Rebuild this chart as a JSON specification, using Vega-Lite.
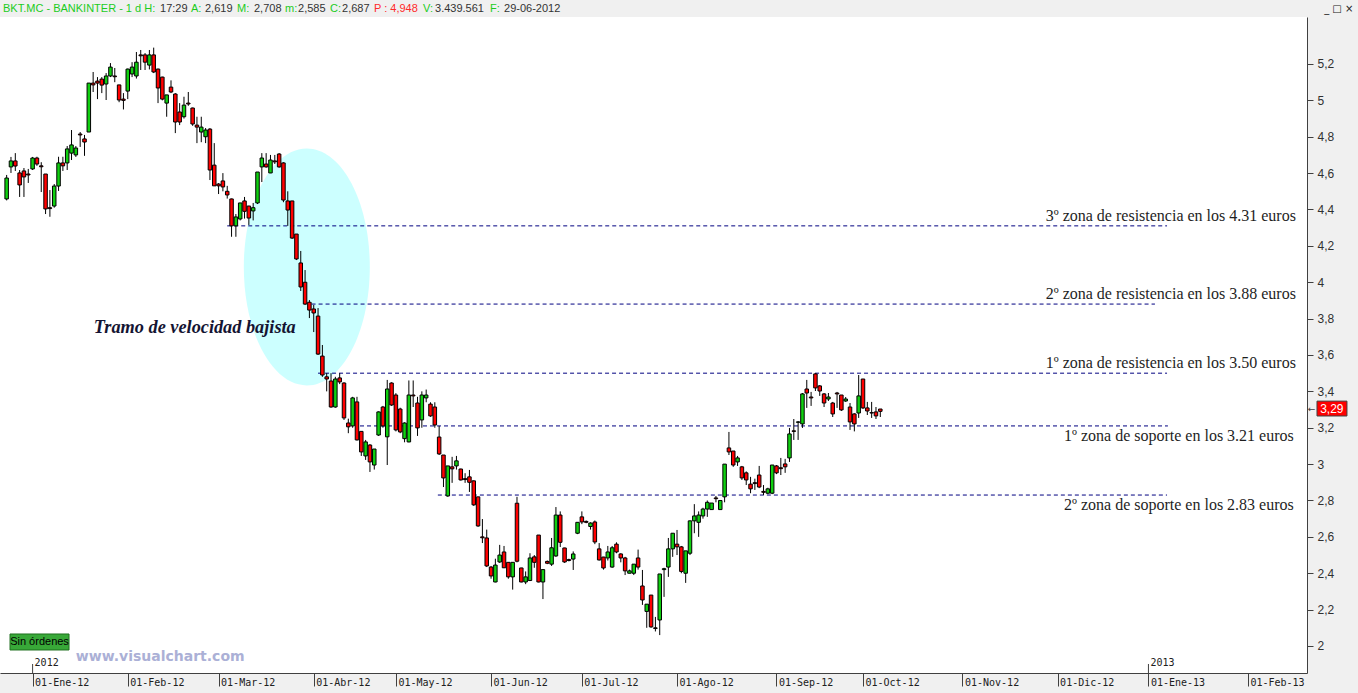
{
"$schema": "https://vega.github.io/schema/vega-lite/v6.json",
"width": 1307, "height": 656,
"autosize": {"type": "none"},
"padding": {"left": 0, "top": 17, "right": 51, "bottom": 20},
"background": "#f0f0f0",
"config": {"view": {"stroke": null, "fill": "#ffffff"}},
"datasets": {
"candles": [
{"i":0,"o":4.458,"h":4.59,"l":4.45,"c":4.573},
{"i":1,"o":4.634,"h":4.689,"l":4.601,"c":4.667},
{"i":2,"o":4.667,"h":4.71,"l":4.612,"c":4.639},
{"i":3,"o":4.601,"h":4.617,"l":4.469,"c":4.535},
{"i":4,"o":4.612,"h":4.628,"l":4.469,"c":4.579},
{"i":5,"o":4.595,"h":4.623,"l":4.546,"c":4.59},
{"i":6,"o":4.623,"h":4.689,"l":4.617,"c":4.683},
{"i":7,"o":4.683,"h":4.69,"l":4.64,"c":4.65},
{"i":8,"o":4.64,"h":4.66,"l":4.496,"c":4.635},
{"i":9,"o":4.595,"h":4.595,"l":4.375,"c":4.403},
{"i":10,"o":4.41,"h":4.507,"l":4.36,"c":4.405},
{"i":11,"o":4.419,"h":4.54,"l":4.41,"c":4.529},
{"i":12,"o":4.529,"h":4.69,"l":4.502,"c":4.656},
{"i":13,"o":4.656,"h":4.69,"l":4.612,"c":4.64},
{"i":14,"o":4.656,"h":4.749,"l":4.617,"c":4.733},
{"i":15,"o":4.71,"h":4.837,"l":4.672,"c":4.755},
{"i":16,"o":4.7,"h":4.749,"l":4.689,"c":4.738},
{"i":17,"o":4.815,"h":4.826,"l":4.744,"c":4.81},
{"i":18,"o":4.788,"h":4.81,"l":4.695,"c":4.771},
{"i":19,"o":4.826,"h":5.095,"l":4.826,"c":5.095},
{"i":20,"o":5.095,"h":5.156,"l":5.046,"c":5.085},
{"i":21,"o":5.106,"h":5.128,"l":5.007,"c":5.095},
{"i":22,"o":5.117,"h":5.128,"l":5.04,"c":5.084},
{"i":23,"o":5.09,"h":5.15,"l":5.002,"c":5.134},
{"i":24,"o":5.134,"h":5.205,"l":5.128,"c":5.183},
{"i":25,"o":5.134,"h":5.178,"l":5.1,"c":5.13},
{"i":26,"o":5.085,"h":5.085,"l":4.99,"c":5.002},
{"i":27,"o":5.007,"h":5.04,"l":4.95,"c":5.0},
{"i":28,"o":5.051,"h":5.175,"l":5.007,"c":5.172},
{"i":29,"o":5.145,"h":5.21,"l":5.128,"c":5.183},
{"i":30,"o":5.134,"h":5.266,"l":5.12,"c":5.21},
{"i":31,"o":5.25,"h":5.277,"l":5.167,"c":5.245},
{"i":32,"o":5.25,"h":5.26,"l":5.167,"c":5.21},
{"i":33,"o":5.194,"h":5.277,"l":5.17,"c":5.25},
{"i":34,"o":5.25,"h":5.29,"l":5.15,"c":5.156},
{"i":35,"o":5.172,"h":5.175,"l":4.985,"c":5.068},
{"i":36,"o":5.128,"h":5.13,"l":5.0,"c":5.007},
{"i":37,"o":4.985,"h":5.03,"l":4.91,"c":5.03},
{"i":38,"o":5.073,"h":5.11,"l":5.04,"c":5.046},
{"i":39,"o":5.035,"h":5.04,"l":4.82,"c":4.881},
{"i":40,"o":4.936,"h":4.985,"l":4.864,"c":4.881},
{"i":41,"o":4.91,"h":5.02,"l":4.9,"c":4.974},
{"i":42,"o":4.985,"h":5.046,"l":4.97,"c":4.98},
{"i":43,"o":4.958,"h":4.96,"l":4.86,"c":4.87},
{"i":44,"o":4.864,"h":4.91,"l":4.765,"c":4.853},
{"i":45,"o":4.826,"h":4.91,"l":4.77,"c":4.853},
{"i":46,"o":4.8,"h":4.848,"l":4.765,"c":4.837},
{"i":47,"o":4.842,"h":4.848,"l":4.562,"c":4.617},
{"i":48,"o":4.644,"h":4.765,"l":4.529,"c":4.53},
{"i":49,"o":4.54,"h":4.545,"l":4.485,"c":4.53},
{"i":50,"o":4.557,"h":4.6,"l":4.5,"c":4.524},
{"i":51,"o":4.5,"h":4.53,"l":4.46,"c":4.48},
{"i":52,"o":4.458,"h":4.46,"l":4.25,"c":4.31},
{"i":53,"o":4.31,"h":4.375,"l":4.25,"c":4.359},
{"i":54,"o":4.348,"h":4.436,"l":4.34,"c":4.436},
{"i":55,"o":4.447,"h":4.469,"l":4.35,"c":4.39},
{"i":56,"o":4.419,"h":4.42,"l":4.315,"c":4.353},
{"i":57,"o":4.392,"h":4.436,"l":4.34,"c":4.41},
{"i":58,"o":4.436,"h":4.606,"l":4.43,"c":4.606},
{"i":59,"o":4.634,"h":4.71,"l":4.551,"c":4.683},
{"i":60,"o":4.65,"h":4.71,"l":4.63,"c":4.634},
{"i":61,"o":4.601,"h":4.7,"l":4.6,"c":4.672},
{"i":62,"o":4.667,"h":4.7,"l":4.65,"c":4.662},
{"i":63,"o":4.705,"h":4.71,"l":4.63,"c":4.634},
{"i":64,"o":4.656,"h":4.66,"l":4.44,"c":4.452},
{"i":65,"o":4.447,"h":4.5,"l":4.31,"c":4.397},
{"i":66,"o":4.447,"h":4.447,"l":4.238,"c":4.243},
{"i":67,"o":4.265,"h":4.265,"l":4.122,"c":4.128},
{"i":68,"o":4.106,"h":4.172,"l":3.952,"c":3.974},
{"i":69,"o":4.0,"h":4.067,"l":3.875,"c":3.88},
{"i":70,"o":3.89,"h":3.902,"l":3.803,"c":3.847},
{"i":71,"o":3.853,"h":3.875,"l":3.726,"c":3.831},
{"i":72,"o":3.814,"h":3.858,"l":3.6,"c":3.605},
{"i":73,"o":3.594,"h":3.655,"l":3.48,"c":3.49},
{"i":74,"o":3.48,"h":3.5,"l":3.4,"c":3.468},
{"i":75,"o":3.457,"h":3.5,"l":3.31,"c":3.314},
{"i":76,"o":3.314,"h":3.48,"l":3.31,"c":3.468},
{"i":77,"o":3.474,"h":3.5,"l":3.44,"c":3.452},
{"i":78,"o":3.446,"h":3.45,"l":3.243,"c":3.254},
{"i":79,"o":3.226,"h":3.25,"l":3.17,"c":3.205},
{"i":80,"o":3.21,"h":3.37,"l":3.2,"c":3.364},
{"i":81,"o":3.342,"h":3.37,"l":3.13,"c":3.133},
{"i":82,"o":3.18,"h":3.18,"l":3.045,"c":3.067},
{"i":83,"o":3.045,"h":3.133,"l":3.023,"c":3.122},
{"i":84,"o":3.105,"h":3.11,"l":2.957,"c":3.012},
{"i":85,"o":2.995,"h":3.083,"l":2.97,"c":3.083},
{"i":86,"o":3.16,"h":3.29,"l":3.155,"c":3.287},
{"i":87,"o":3.314,"h":3.32,"l":3.2,"c":3.21},
{"i":88,"o":3.15,"h":3.463,"l":2.995,"c":3.413},
{"i":89,"o":3.446,"h":3.45,"l":3.32,"c":3.325},
{"i":90,"o":3.38,"h":3.39,"l":3.18,"c":3.188},
{"i":91,"o":3.303,"h":3.31,"l":3.17,"c":3.177},
{"i":92,"o":3.14,"h":3.23,"l":3.12,"c":3.226},
{"i":93,"o":3.122,"h":3.46,"l":3.12,"c":3.38},
{"i":94,"o":3.38,"h":3.46,"l":3.314,"c":3.375},
{"i":95,"o":3.336,"h":3.37,"l":3.155,"c":3.199},
{"i":96,"o":3.243,"h":3.4,"l":3.2,"c":3.38},
{"i":97,"o":3.364,"h":3.41,"l":3.34,"c":3.38},
{"i":98,"o":3.33,"h":3.34,"l":3.26,"c":3.265},
{"i":99,"o":3.314,"h":3.34,"l":3.2,"c":3.215},
{"i":100,"o":3.149,"h":3.21,"l":3.05,"c":3.056},
{"i":101,"o":3.05,"h":3.05,"l":2.874,"c":2.924},
{"i":102,"o":2.825,"h":2.99,"l":2.82,"c":2.99},
{"i":103,"o":2.985,"h":3.04,"l":2.897,"c":2.974},
{"i":104,"o":2.99,"h":3.045,"l":2.97,"c":3.018},
{"i":105,"o":2.973,"h":2.975,"l":2.91,"c":2.913},
{"i":106,"o":2.92,"h":2.95,"l":2.897,"c":2.915},
{"i":107,"o":2.93,"h":2.968,"l":2.847,"c":2.9},
{"i":108,"o":2.908,"h":2.91,"l":2.77,"c":2.776},
{"i":109,"o":2.82,"h":2.82,"l":2.655,"c":2.66},
{"i":110,"o":2.6,"h":2.698,"l":2.566,"c":2.595},
{"i":111,"o":2.594,"h":2.64,"l":2.434,"c":2.44},
{"i":112,"o":2.434,"h":2.44,"l":2.37,"c":2.385},
{"i":113,"o":2.352,"h":2.48,"l":2.35,"c":2.445},
{"i":114,"o":2.462,"h":2.556,"l":2.457,"c":2.5},
{"i":115,"o":2.517,"h":2.55,"l":2.43,"c":2.43},
{"i":116,"o":2.46,"h":2.46,"l":2.37,"c":2.38},
{"i":117,"o":2.38,"h":2.46,"l":2.31,"c":2.46},
{"i":118,"o":2.785,"h":2.82,"l":2.46,"c":2.466},
{"i":119,"o":2.429,"h":2.43,"l":2.35,"c":2.352},
{"i":120,"o":2.352,"h":2.41,"l":2.34,"c":2.38},
{"i":121,"o":2.36,"h":2.51,"l":2.357,"c":2.484},
{"i":122,"o":2.49,"h":2.5,"l":2.43,"c":2.46},
{"i":123,"o":2.61,"h":2.61,"l":2.35,"c":2.352},
{"i":124,"o":2.352,"h":2.42,"l":2.258,"c":2.42},
{"i":125,"o":2.465,"h":2.47,"l":2.45,"c":2.455},
{"i":126,"o":2.45,"h":2.594,"l":2.44,"c":2.54},
{"i":127,"o":2.495,"h":2.764,"l":2.49,"c":2.72},
{"i":128,"o":2.72,"h":2.74,"l":2.544,"c":2.57},
{"i":129,"o":2.539,"h":2.54,"l":2.457,"c":2.462},
{"i":130,"o":2.475,"h":2.48,"l":2.465,"c":2.47},
{"i":131,"o":2.478,"h":2.52,"l":2.418,"c":2.506},
{"i":132,"o":2.62,"h":2.68,"l":2.615,"c":2.68},
{"i":133,"o":2.71,"h":2.74,"l":2.67,"c":2.682},
{"i":134,"o":2.685,"h":2.69,"l":2.675,"c":2.68},
{"i":135,"o":2.657,"h":2.68,"l":2.64,"c":2.676},
{"i":136,"o":2.682,"h":2.69,"l":2.56,"c":2.572},
{"i":137,"o":2.534,"h":2.566,"l":2.47,"c":2.473},
{"i":138,"o":2.489,"h":2.49,"l":2.42,"c":2.429},
{"i":139,"o":2.484,"h":2.55,"l":2.47,"c":2.517},
{"i":140,"o":2.434,"h":2.55,"l":2.43,"c":2.54},
{"i":141,"o":2.56,"h":2.57,"l":2.51,"c":2.517},
{"i":142,"o":2.506,"h":2.51,"l":2.46,"c":2.484},
{"i":143,"o":2.484,"h":2.49,"l":2.39,"c":2.413},
{"i":144,"o":2.4,"h":2.42,"l":2.4,"c":2.413},
{"i":145,"o":2.4,"h":2.45,"l":2.39,"c":2.45},
{"i":146,"o":2.484,"h":2.53,"l":2.42,"c":2.434},
{"i":147,"o":2.33,"h":2.418,"l":2.226,"c":2.253},
{"i":148,"o":2.19,"h":2.23,"l":2.1,"c":2.23},
{"i":149,"o":2.28,"h":2.28,"l":2.1,"c":2.105},
{"i":150,"o":2.1,"h":2.16,"l":2.08,"c":2.096},
{"i":151,"o":2.143,"h":2.396,"l":2.06,"c":2.396},
{"i":152,"o":2.42,"h":2.43,"l":2.27,"c":2.425},
{"i":153,"o":2.434,"h":2.594,"l":2.38,"c":2.534},
{"i":154,"o":2.534,"h":2.62,"l":2.49,"c":2.62},
{"i":155,"o":2.56,"h":2.638,"l":2.5,"c":2.545},
{"i":156,"o":2.545,"h":2.55,"l":2.4,"c":2.41},
{"i":157,"o":2.4,"h":2.523,"l":2.347,"c":2.523},
{"i":158,"o":2.51,"h":2.69,"l":2.5,"c":2.688},
{"i":159,"o":2.688,"h":2.78,"l":2.62,"c":2.715},
{"i":160,"o":2.68,"h":2.74,"l":2.6,"c":2.72},
{"i":161,"o":2.715,"h":2.76,"l":2.7,"c":2.753},
{"i":162,"o":2.753,"h":2.8,"l":2.71,"c":2.79},
{"i":163,"o":2.75,"h":2.786,"l":2.75,"c":2.786},
{"i":164,"o":2.814,"h":2.825,"l":2.79,"c":2.81},
{"i":165,"o":2.75,"h":2.8,"l":2.75,"c":2.8},
{"i":166,"o":2.82,"h":3.0,"l":2.79,"c":3.0},
{"i":167,"o":3.089,"h":3.177,"l":3.05,"c":3.067},
{"i":168,"o":3.072,"h":3.072,"l":2.985,"c":2.995},
{"i":169,"o":3.012,"h":3.045,"l":2.99,"c":3.034},
{"i":170,"o":2.985,"h":2.99,"l":2.913,"c":2.924},
{"i":171,"o":2.952,"h":2.96,"l":2.885,"c":2.913},
{"i":172,"o":2.89,"h":2.93,"l":2.84,"c":2.864},
{"i":173,"o":2.898,"h":2.92,"l":2.858,"c":2.893},
{"i":174,"o":2.94,"h":2.99,"l":2.868,"c":2.874},
{"i":175,"o":2.85,"h":2.885,"l":2.83,"c":2.845},
{"i":176,"o":2.84,"h":2.87,"l":2.835,"c":2.864},
{"i":177,"o":2.84,"h":2.995,"l":2.835,"c":2.995},
{"i":178,"o":2.99,"h":2.995,"l":2.945,"c":2.952},
{"i":179,"o":2.98,"h":3.034,"l":2.94,"c":2.975},
{"i":180,"o":3.001,"h":3.029,"l":2.952,"c":2.985},
{"i":181,"o":3.034,"h":3.199,"l":3.012,"c":3.166},
{"i":182,"o":3.183,"h":3.248,"l":3.133,"c":3.18},
{"i":183,"o":3.23,"h":3.237,"l":3.133,"c":3.232},
{"i":184,"o":3.221,"h":3.391,"l":3.199,"c":3.386},
{"i":185,"o":3.413,"h":3.463,"l":3.309,"c":3.391},
{"i":186,"o":3.369,"h":3.397,"l":3.32,"c":3.364},
{"i":187,"o":3.496,"h":3.5,"l":3.402,"c":3.419},
{"i":188,"o":3.43,"h":3.435,"l":3.375,"c":3.402},
{"i":189,"o":3.386,"h":3.391,"l":3.314,"c":3.336},
{"i":190,"o":3.358,"h":3.391,"l":3.347,"c":3.369},
{"i":191,"o":3.336,"h":3.342,"l":3.259,"c":3.276},
{"i":192,"o":3.391,"h":3.397,"l":3.309,"c":3.386},
{"i":193,"o":3.38,"h":3.38,"l":3.292,"c":3.298},
{"i":194,"o":3.347,"h":3.369,"l":3.342,"c":3.358},
{"i":195,"o":3.314,"h":3.336,"l":3.188,"c":3.232},
{"i":196,"o":3.276,"h":3.28,"l":3.18,"c":3.221},
{"i":197,"o":3.281,"h":3.49,"l":3.254,"c":3.375},
{"i":198,"o":3.468,"h":3.468,"l":3.303,"c":3.309},
{"i":199,"o":3.309,"h":3.342,"l":3.27,"c":3.292},
{"i":200,"o":3.283,"h":3.342,"l":3.254,"c":3.281},
{"i":201,"o":3.287,"h":3.314,"l":3.248,"c":3.265},
{"i":202,"o":3.303,"h":3.303,"l":3.259,"c":3.29}
],
"levels": [
{"level":4.31,"x0":51,"x1":268.3,"label":"3º zona de resistencia en los 4.31 euros"},
{"level":3.88,"x0":70.5,"x1":265.5,"label":"2º zona de resistencia en los 3.88 euros"},
{"level":3.5,"x0":72,"x1":268.3,"label":"1º zona de resistencia en los 3.50 euros"},
{"level":3.21,"x0":81.7,"x1":268.5,"label":"1º zona de soporte en los 3.21 euros"},
{"level":2.83,"x0":99.7,"x1":268.3,"label":"2º zona de soporte en los 2.83 euros"}
]
},
"layer": [
{"data":{"values":[{}]},
 "mark":{"type":"point","shape":"M 0.5316 0 C 0.5316 0.5523 0.2936 1 0 1 C -0.2936 1 -0.5316 0.5523 -0.5316 0 C -0.5316 -0.5523 -0.2936 -1 0 -1 C 0.2936 -1 0.5316 -0.5523 0.5316 0 Z","size":56169,"filled":true,"fill":"#ccffff","opacity":1,"strokeWidth":0},
 "encoding":{
  "x":{"datum":69.4,"type":"quantitative","scale":{"domain":[-1.538,300.66],"nice":false,"zero":false,"padding":0},
   "axis":{"orient":"bottom","title":null,"grid":false,"values":[6,28,49,71,90,112,133,155,178,198,221,243,264,287],
    "labelExpr":"datum.value==6?'01-Ene-12':datum.value==28?'01-Feb-12':datum.value==49?'01-Mar-12':datum.value==71?'01-Abr-12':datum.value==90?'01-May-12':datum.value==112?'01-Jun-12':datum.value==133?'01-Jul-12':datum.value==155?'01-Ago-12':datum.value==178?'01-Sep-12':datum.value==198?'01-Oct-12':datum.value==221?'01-Nov-12':datum.value==243?'01-Dic-12':datum.value==264?'01-Ene-13':'01-Feb-13'",
    "domainColor":"#404040","tickColor":"#404040","tickSize":13,"labelAlign":"left","labelBaseline":"top","labelPadding":-9,"labelOffset":2,
    "labelFont":"DejaVu Sans Mono","labelFontSize":10,"labelColor":"#202020","labelOverlap":false,"labelFlush":false,"labelBound":false}},
  "y":{"datum":4.084,"type":"quantitative","scale":{"domain":[1.8515,5.4584],"nice":false,"zero":false,"padding":0},
   "axis":{"orient":"right","title":null,"grid":false,
    "values":[2,2.2,2.4,2.6,2.8,3,3.2,3.4,3.6,3.8,4,4.2,4.4,4.6,4.8,5,5.2],
    "labelExpr":"replace(format(datum.value, '.1~f'), '.', ',')",
    "tickSize":6,
    "domainColor":"#404040","tickColor":"#404040","labelPadding":4,"labelFont":"Liberation Sans","labelFontSize":12,"labelColor":"#303030",
    "labelOverlap":false,"labelFlush":false,"labelBound":false}}}},
{"data":{"name":"levels"},
 "mark":{"type":"rule","color":"#000080","strokeWidth":1,"strokeDash":[4,3]},
 "encoding":{"x":{"field":"x0","type":"quantitative"},"x2":{"field":"x1"},"y":{"field":"level","type":"quantitative"}}},
{"data":{"name":"levels"},
 "transform":[{"filter":"datum.level >= 3.5"}],
 "mark":{"type":"text","align":"right","baseline":"middle","dy":-10,"font":"Liberation Serif","fontSize":16,"color":"#1e1e1e"},
 "encoding":{"x":{"datum":298.1,"type":"quantitative"},"y":{"field":"level","type":"quantitative"},"text":{"field":"label"}}},
{"data":{"name":"levels"},
 "transform":[{"filter":"datum.level < 3.5"}],
 "mark":{"type":"text","align":"right","baseline":"middle","dy":10,"font":"Liberation Serif","fontSize":16,"color":"#1e1e1e"},
 "encoding":{"x":{"datum":297.6,"type":"quantitative"},"y":{"field":"level","type":"quantitative"},"text":{"field":"label"}}},
{"data":{"values":[{}]},
 "mark":{"type":"text","text":"Tramo de velocidad bajista","align":"center","baseline":"middle","font":"Liberation Serif","fontSize":18.3,"fontStyle":"italic","fontWeight":"bold","color":"#141432"},
 "encoding":{"x":{"datum":43.5,"type":"quantitative"},"y":{"datum":3.748,"type":"quantitative"}}},
{"data":{"name":"candles"},
 "mark":{"type":"rule","color":"#000000","strokeWidth":1},
 "encoding":{"x":{"field":"i","type":"quantitative"},"y":{"field":"l","type":"quantitative"},"y2":{"field":"h"}}},
{"data":{"name":"candles"},
 "mark":{"type":"bar","orient":"vertical","size":3.5,"stroke":"#000000","strokeWidth":1},
 "encoding":{
  "x":{"field":"i","type":"quantitative"},
  "y":{"field":"o","type":"quantitative"},
  "y2":{"field":"c"},
  "fill":{"condition":{"test":"datum.c < datum.o","value":"#ff0000"},"value":"#10d010"}
 }},
{"data":{"values":[{}]},
 "mark":{"type":"rule","color":"#404040","strokeWidth":1},
 "encoding":{"x":{"datum":6,"type":"quantitative"},"y":{"datum":1.901,"type":"quantitative"},"y2":{"datum":1.8515}}},
{"data":{"values":[{}]},
 "mark":{"type":"rule","color":"#404040","strokeWidth":1},
 "encoding":{"x":{"datum":264,"type":"quantitative"},"y":{"datum":1.901,"type":"quantitative"},"y2":{"datum":1.8515}}},
{"data":{"values":[{}]},
 "mark":{"type":"text","text":"2012","align":"left","baseline":"middle","dx":2,"font":"DejaVu Sans Mono","fontSize":10,"color":"#202020"},
 "encoding":{"x":{"datum":6,"type":"quantitative"},"y":{"datum":1.9065,"type":"quantitative"}}},
{"data":{"values":[{}]},
 "mark":{"type":"text","text":"2013","align":"left","baseline":"middle","dx":2,"font":"DejaVu Sans Mono","fontSize":10,"color":"#202020"},
 "encoding":{"x":{"datum":264,"type":"quantitative"},"y":{"datum":1.9065,"type":"quantitative"}}},
{"data":{"values":[{}]},
 "mark":{"type":"text","text":"www.visualchart.com","align":"center","baseline":"middle","font":"DejaVu Sans","fontWeight":"bold","fontSize":14,"color":"#abb0d6"},
 "encoding":{"x":{"datum":35.5,"type":"quantitative"},"y":{"datum":1.9395,"type":"quantitative"}}},
{"data":{"values":[{}]},
 "mark":{"type":"rect","fill":"#38a838","stroke":"#1f6f1f","strokeWidth":1},
 "encoding":{"x":{"datum":0.78,"type":"quantitative"},"x2":{"datum":14.42},"y":{"datum":2.066,"type":"quantitative"},"y2":{"datum":1.978}}},
{"data":{"values":[{}]},
 "mark":{"type":"text","text":"Sin órdenes","align":"center","baseline":"middle","font":"Liberation Sans","fontSize":11,"color":"#000000"},
 "encoding":{"x":{"datum":7.6,"type":"quantitative"},"y":{"datum":2.022,"type":"quantitative"}}},
{"data":{"values":[{}]},
 "mark":{"type":"rect","fill":"#ff0000","stroke":"#404040","strokeWidth":1},
 "encoding":{"x":{"datum":302.97,"type":"quantitative"},"x2":{"datum":309.9},"y":{"datum":3.3464,"type":"quantitative"},"y2":{"datum":3.2646}}},
{"data":{"values":[{}]},
 "mark":{"type":"text","text":"3,29","align":"center","baseline":"middle","font":"Liberation Sans","fontSize":12,"color":"#ffffff"},
 "encoding":{"x":{"datum":306.4,"type":"quantitative"},"y":{"datum":3.3058,"type":"quantitative"}}},
{"data":{"values":[{}]},
 "mark":{"type":"text","text":"←","align":"center","baseline":"middle","font":"DejaVu Sans","fontSize":9,"color":"#404040"},
 "encoding":{"x":{"datum":301.7,"type":"quantitative"},"y":{"datum":3.3058,"type":"quantitative"}}},
{"data":{"values":[{}]},
 "mark":{"type":"text","text":"_ □ ×","align":"center","baseline":"middle","font":"DejaVu Sans","fontSize":10,"color":"#202020"},
 "encoding":{"x":{"datum":308.0,"type":"quantitative"},"y":{"datum":5.505,"type":"quantitative"}}},
{"data":{"values":[{}]},"mark":{"type":"text","text":"BKT.MC - BANKINTER -  1 d  H:","align":"left","baseline":"middle","font":"Liberation Sans","fontSize":11,"color":"#1ccc1c"},"encoding":{"x":{"datum":-0.84,"type":"quantitative"},"y":{"datum":5.505,"type":"quantitative"}}},
{"data":{"values":[{}]},"mark":{"type":"text","text":"17:29","align":"left","baseline":"middle","font":"Liberation Sans","fontSize":11,"color":"#333333"},"encoding":{"x":{"datum":35.46,"type":"quantitative"},"y":{"datum":5.505,"type":"quantitative"}}},
{"data":{"values":[{}]},"mark":{"type":"text","text":"A:","align":"left","baseline":"middle","font":"Liberation Sans","fontSize":11,"color":"#1ccc1c"},"encoding":{"x":{"datum":42.6,"type":"quantitative"},"y":{"datum":5.505,"type":"quantitative"}}},
{"data":{"values":[{}]},"mark":{"type":"text","text":"2,619","align":"left","baseline":"middle","font":"Liberation Sans","fontSize":11,"color":"#333333"},"encoding":{"x":{"datum":45.86,"type":"quantitative"},"y":{"datum":5.505,"type":"quantitative"}}},
{"data":{"values":[{}]},"mark":{"type":"text","text":"M:","align":"left","baseline":"middle","font":"Liberation Sans","fontSize":11,"color":"#1ccc1c"},"encoding":{"x":{"datum":53.26,"type":"quantitative"},"y":{"datum":5.505,"type":"quantitative"}}},
{"data":{"values":[{}]},"mark":{"type":"text","text":"2,708","align":"left","baseline":"middle","font":"Liberation Sans","fontSize":11,"color":"#333333"},"encoding":{"x":{"datum":57.19,"type":"quantitative"},"y":{"datum":5.505,"type":"quantitative"}}},
{"data":{"values":[{}]},"mark":{"type":"text","text":"m:","align":"left","baseline":"middle","font":"Liberation Sans","fontSize":11,"color":"#1ccc1c"},"encoding":{"x":{"datum":64.36,"type":"quantitative"},"y":{"datum":5.505,"type":"quantitative"}}},
{"data":{"values":[{}]},"mark":{"type":"text","text":"2,585","align":"left","baseline":"middle","font":"Liberation Sans","fontSize":11,"color":"#333333"},"encoding":{"x":{"datum":67.37,"type":"quantitative"},"y":{"datum":5.505,"type":"quantitative"}}},
{"data":{"values":[{}]},"mark":{"type":"text","text":"C:","align":"left","baseline":"middle","font":"Liberation Sans","fontSize":11,"color":"#1ccc1c"},"encoding":{"x":{"datum":74.76,"type":"quantitative"},"y":{"datum":5.505,"type":"quantitative"}}},
{"data":{"values":[{}]},"mark":{"type":"text","text":"2,687","align":"left","baseline":"middle","font":"Liberation Sans","fontSize":11,"color":"#333333"},"encoding":{"x":{"datum":77.54,"type":"quantitative"},"y":{"datum":5.505,"type":"quantitative"}}},
{"data":{"values":[{}]},"mark":{"type":"text","text":"P : 4,948","align":"left","baseline":"middle","font":"Liberation Sans","fontSize":11,"color":"#ff2a2a"},"encoding":{"x":{"datum":84.94,"type":"quantitative"},"y":{"datum":5.505,"type":"quantitative"}}},
{"data":{"values":[{}]},"mark":{"type":"text","text":"V:","align":"left","baseline":"middle","font":"Liberation Sans","fontSize":11,"color":"#1ccc1c"},"encoding":{"x":{"datum":96.27,"type":"quantitative"},"y":{"datum":5.505,"type":"quantitative"}}},
{"data":{"values":[{}]},"mark":{"type":"text","text":"3.439.561","align":"left","baseline":"middle","font":"Liberation Sans","fontSize":11,"color":"#333333"},"encoding":{"x":{"datum":99.05,"type":"quantitative"},"y":{"datum":5.505,"type":"quantitative"}}},
{"data":{"values":[{}]},"mark":{"type":"text","text":"F:","align":"left","baseline":"middle","font":"Liberation Sans","fontSize":11,"color":"#1ccc1c"},"encoding":{"x":{"datum":111.77,"type":"quantitative"},"y":{"datum":5.505,"type":"quantitative"}}},
{"data":{"values":[{}]},"mark":{"type":"text","text":"29-06-2012","align":"left","baseline":"middle","font":"Liberation Sans","fontSize":11,"color":"#333333"},"encoding":{"x":{"datum":115.0,"type":"quantitative"},"y":{"datum":5.505,"type":"quantitative"}}}
]
}
